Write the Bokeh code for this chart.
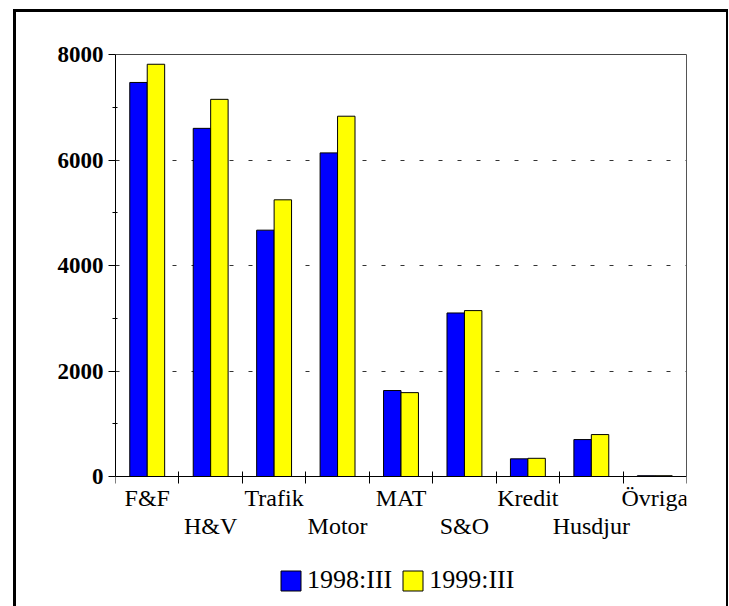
from bokeh.plotting import figure
from bokeh.models import (Range1d, FixedTicker, Legend, LegendItem, InlineStyleSheet,
                          LinearAxis)
from bokeh.embed import file_html
from bokeh.resources import INLINE

categories = ["F&F", "H&V", "Trafik", "Motor", "MAT", "S&O", "Kredit", "Husdjur", "Övriga"]
series_names = ["1998:III", "1999:III"]
values_1998 = [7470, 6600, 4670, 6135, 1630, 3100, 335, 700, 15]
values_1999 = [7815, 7150, 5245, 6830, 1590, 3145, 345, 795, 15]
y_major = [0, 2000, 4000, 6000, 8000]
y_minor = [1000, 3000, 5000, 7000]
y_grid = [2000, 4000, 6000]
y_max = 8000
colors = ["#0000FF", "#FFFF00"]

n = len(categories)
centers = [i + 0.5 for i in range(n)]
bounds = list(range(n + 1))
bw = 0.275

# layout (canvas pixels): plot area top, zero line, bottom of drawing area
TOP, ZERO, BOTTOM = 54, 476, 600
y_start = -y_max * (BOTTOM - ZERO) / (ZERO - TOP)

p = figure(width=729, height=606, x_range=Range1d(0, n), y_range=Range1d(y_start, y_max),
           output_backend="svg", toolbar_location=None,
           min_border_left=115, min_border_right=43, min_border_top=TOP,
           min_border_bottom=606 - BOTTOM)

# outer black frame of the picture (open at the bottom)
p.stylesheets = [InlineStyleSheet(css="""
:host { position: relative; }
:host::after {
  content: ""; position: absolute; box-sizing: border-box;
  left: 13px; top: 9px; right: 1px; bottom: 0px;
  border-left: 3px solid black; border-top: 3px solid black;
  border-right: 2px solid black; border-bottom: none;
  pointer-events: none; z-index: 10;
}
""")]

r1 = p.vbar(x=[c - bw / 2 for c in centers], top=values_1998, width=bw,
            fill_color=colors[0], line_color="black", line_width=1)
r2 = p.vbar(x=[c + bw / 2 for c in centers], top=values_1999, width=bw,
            fill_color=colors[1], line_color="black", line_width=1)

p.outline_line_color = None
p.background_fill_color = "white"
p.border_fill_color = "white"

# x axis, drawn at y = 0
p.xgrid.visible = False
xa = p.xaxis[0]
xa.fixed_location = 0
xa.ticker = FixedTicker(ticks=centers, minor_ticks=bounds)
xa.major_label_overrides = {c: (lab if i % 2 == 0 else "\n" + lab)
                            for i, (c, lab) in enumerate(zip(centers, categories))}
xa.major_tick_line_color = None
xa.major_tick_out = 7
xa.major_tick_in = 0
xa.minor_tick_line_color = "black"
xa.minor_tick_in = 5
xa.minor_tick_out = 7
xa.axis_line_color = "black"
xa.major_label_text_font = "Liberation Serif"
xa.major_label_text_font_size = "24px"
xa.major_label_text_line_height = 1.1
xa.major_label_text_color = "black"
xa.major_label_standoff = 1

# y axis, only from 0 to 8000
ya = p.yaxis[0]
ya.bounds = (0, y_max)
ya.ticker = FixedTicker(ticks=y_major, minor_ticks=y_minor)
ya.major_tick_out = 7
ya.major_tick_in = 0
ya.minor_tick_in = 2
ya.minor_tick_out = 3
ya.axis_line_color = "black"
ya.major_tick_line_color = "black"
ya.minor_tick_line_color = "black"
ya.major_label_text_font = "Liberation Serif"
ya.major_label_text_font_style = "bold"
ya.major_label_text_font_size = "23px"
ya.major_label_text_color = "black"
ya.major_label_standoff = 5

# top and right edges of the plot area
top_line = LinearAxis(ticker=FixedTicker(ticks=[]), axis_line_color="#444444",
                      major_tick_line_color=None, minor_tick_line_color=None)
right_line = LinearAxis(ticker=FixedTicker(ticks=[]), axis_line_color="#555555",
                        major_tick_line_color=None, minor_tick_line_color=None,
                        bounds=(0, y_max))
p.add_layout(top_line, "above")
p.add_layout(right_line, "right")

p.ygrid.ticker = FixedTicker(ticks=y_grid)
p.ygrid.grid_line_color = "#333333"
p.ygrid.grid_line_dash = "4 15"
p.ygrid.grid_line_width = 1

legend = Legend(items=[LegendItem(label=series_names[0], renderers=[r1]),
                       LegendItem(label=series_names[1], renderers=[r2])],
                orientation="horizontal", location=(163, 5),
                glyph_width=25, glyph_height=25, label_standoff=4, spacing=8,
                padding=0, margin=0, border_line_color=None, background_fill_alpha=0,
                label_text_font="Liberation Serif", label_text_font_size="26px",
                label_text_color="black")
p.add_layout(legend, "center")

open("out.html", "w").write(file_html(p, INLINE))
